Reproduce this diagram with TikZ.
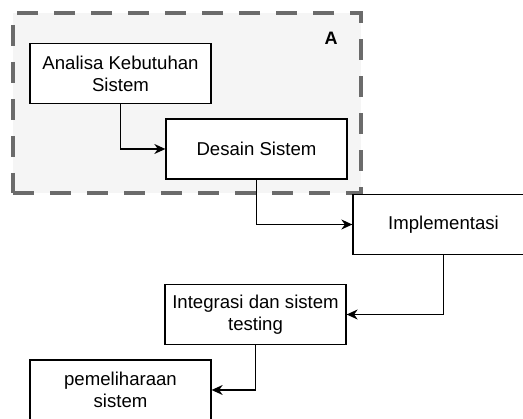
\documentclass[tikz,border=0pt]{standalone}
\usepackage{fontspec}
\setmainfont{Liberation Sans}
\usetikzlibrary{arrows.meta,fit,backgrounds}

\begin{document}
\begin{tikzpicture}[x=1pt,y=-1pt,
	stepbox/.style={
		draw,
		line width=1.3pt,
		fill=white,
		minimum width=181pt,
		minimum height=60pt,
		align=center,
		inner sep=2pt,
		font=\fontsize{18.6}{22}\selectfont
	},
	areabox/.style={
		draw=black!58,
		fill=black!4,
		line width=4pt,
		dash pattern=on 21pt off 16pt,
		inner sep=0pt,
		fit=#1
	},
	flow/.style={
		line width=1.3pt,
		-{Stealth[length=11pt,width=10pt,inset=3.5pt]}
	}]

	\clip (0,0) rectangle (523,419);

	% area A
	\coordinate (A1) at (13,13);
	\coordinate (A2) at (361,193);
	\node[areabox={(A1) (A2)}] (areaA) {};
	\node[font=\bfseries\fontsize{18}{21}\selectfont] (labelA) at (331,38) {A};

	\node[stepbox] (analisa) at (120.5,73.5) {Analisa Kebutuhan\\Sistem};
	\node[stepbox] (desain) at (256.5,149) {Desain Sistem};
	\node[stepbox] (impl) at (443.5,224.5) {Implementasi};
	\node[stepbox] (integrasi) at (255.5,314.5) {Integrasi dan sistem\\testing};
	\node[stepbox] (pemeliharaan) at (120.5,390) {pemeliharaan\\sistem};

	\draw[flow] (analisa.south) |- (desain.west);
	\draw[flow] (desain.south) |- (impl.west);
	\draw[flow] (impl.south) |- (integrasi.east);
	\draw[flow] (integrasi.south) |- (pemeliharaan.east);
\end{tikzpicture}
\end{document}
